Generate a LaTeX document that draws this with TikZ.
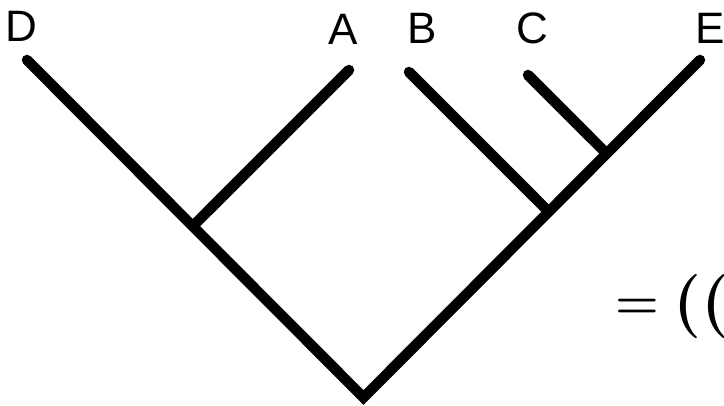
\documentclass[tikz,border=0pt]{standalone}
\usepackage{fontspec}
\usetikzlibrary{calc}
\newfontfamily\labelfont{Liberation Sans}
\begin{document}
\begin{tikzpicture}[x=1pt,y=-1pt,
  branch/.style={line width=10.5pt,line cap=round,line join=miter,miter limit=10},
  leaflabel/.style={font=\labelfont\fontsize{44}{44}\selectfont,inner sep=0pt,anchor=center}]
\useasboundingbox (0,0) rectangle (724,406);
\clip (0,0) rectangle (724,406);
% leaf ends
\coordinate (D) at (27,60);
\coordinate (A) at (349,70);
\coordinate (B) at (409,72);
\coordinate (C) at (528,75);
\coordinate (E) at (700,60);
% internal vertices
\coordinate (root) at (363.5,397.5);
\coordinate (jDA) at (193,226);
\coordinate (jBE) at (548.5,211.5);
\coordinate (jCE) at (606.5,153.5);
% tree
\draw[branch] (D) -- (root) -- (E);
\draw[branch,line cap=butt] (A) -- (jDA);
\draw[branch] (A) -- ($(A)!0.9!(jDA)$);
\draw[branch] (B) -- ($(B)!0.9!(jBE)$);
\draw[branch,line cap=butt] (B) -- (jBE);
\draw[branch] (C) -- ($(C)!0.8!(jCE)$);
\draw[branch,line cap=butt] (C) -- (jCE);
% labels
\node[leaflabel] (lD) at (21,26) {D};
\node[leaflabel] (lA) at (343,29) {A};
\node[leaflabel] (lB) at (422,28) {B};
\node[leaflabel] (lC) at (532,28) {C};
\node[leaflabel] (lE) at (710,28) {E};
% formula (cut off at right edge)
\node[font=\bfseries\fontsize{50}{50}\selectfont,inner sep=0pt,anchor=base] (eq) at (637,318.5) {=};
\node[font=\bfseries\fontsize{64}{64}\selectfont,inner sep=0pt,anchor=base west] (par) at (673,323) {((};
\end{tikzpicture}
\end{document}
